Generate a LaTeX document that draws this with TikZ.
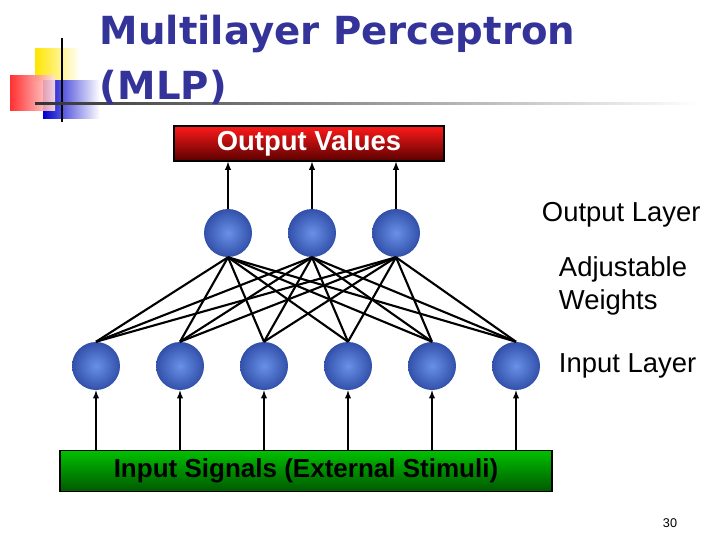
\documentclass[tikz,border=0pt]{standalone}
\usepackage{fontspec}
\setmainfont{Liberation Sans}
\newfontfamily\titlefont{DejaVu Sans}
\begin{document}
\begin{tikzpicture}[x=0.025cm,y=-0.025cm,
  neuron/.style={circle,minimum size=48*0.025cm,inner sep=0pt,shading=radial,
    inner color={rgb,255:red,105;green,145;blue,230},outer color={rgb,255:red,50;green,80;blue,170}},
  lab/.style={font=\fontsize{19.5}{23}\selectfont,anchor=west,align=left},
  wt/.style={line width=1.5pt},
  arr/.style={line width=1pt,-{latex}}]
\useasboundingbox (0,0) rectangle (720,540);
% logo
\shade[left color=yellow!80!orange,right color=white] (35,48) rectangle (80,80);
\shade[left color=blue!80!black,right color=white] (43,80) rectangle (100,118);
\shade[left color=red!90!white,right color=red!10!white,opacity=0.9] (10,75) rectangle (55,110);
\draw[line width=1.2pt] (62,38) -- (62,122);
\shade[left color=black!80,right color=white] (35,102) rectangle (700,104.5);
% title
\node[anchor=west,text={rgb,255:red,51;green,51;blue,153},font=\titlefont\bfseries\fontsize{27.5}{39}\selectfont,align=left] (title) at (95,60) {Multilayer Perceptron\\(MLP)};
% boxes
\node[draw=black,line width=1pt,minimum width=270*0.025cm,minimum height=35*0.025cm,inner sep=0pt,
  top color=red!90!white,bottom color=red!35!black,text=white,font=\bfseries\fontsize{19.5}{22}\selectfont] (ov) at (309,143.5) {Output Values};
\node[draw=black,line width=1pt,minimum width=492*0.025cm,minimum height=41*0.025cm,inner sep=0pt,
  top color=green!75!black,bottom color=green!35!black,text=black,font=\bfseries\fontsize{18.5}{22}\selectfont] (is) at (306,471) {Input Signals (External Stimuli)};
% neurons
\foreach \i/\x in {1/228,2/312,3/396} \node[neuron] (o\i) at (\x,233) {};
\foreach \i/\x in {1/96,2/180,3/264,4/348,5/432,6/516} \node[neuron] (n\i) at (\x,366) {};
\foreach \i in {1,2,3} \foreach \j in {1,...,6} \draw[wt] (o\i.south) -- (n\j.north);
\foreach \i in {1,2,3} \draw[arr] (o\i.north) -- (o\i.north |- ov.south);
\foreach \j in {1,...,6} \draw[arr] (n\j.south |- is.north) -- (n\j.south);
% labels
\node[lab] (l1) at (537,215) {Output Layer};
\node[lab] (l2) at (554,286) {Adjustable\\Weights};
\node[lab] (l3) at (554,366) {Input Layer};
\node[font=\fontsize{9}{10}\selectfont] (pg) at (670,523) {30};
\end{tikzpicture}
\end{document}
